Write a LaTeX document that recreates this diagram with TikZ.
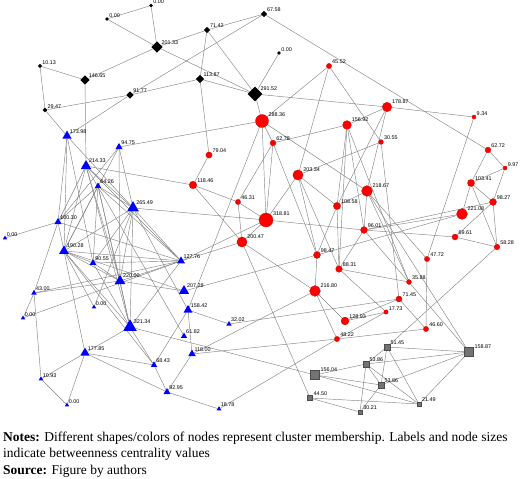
\documentclass[tikz,border=0pt]{standalone}
\usepackage{fontspec}
\setmainfont{Liberation Serif}
\newfontfamily\lblfont{Liberation Sans}
\usetikzlibrary{shapes.geometric}
\pgfdeclarelayer{bg}
\pgfsetlayers{bg,main}

\begin{document}
\begin{tikzpicture}[
    %	style def
    x=1pt, y=-1pt,
    label distance=0.3pt,
    link/.style={draw=black!48, line width=0.45pt},
    lbl/.style={font=\lblfont\fontsize{5.4}{6}\selectfont, inner sep=0.4pt},
    kn/.style={diamond, fill=black, inner sep=0pt, minimum size={4+0.037*#1}, label={[lbl]30:#1}},
    rn/.style={circle, fill=red, draw=red!75!black, line width=0.25pt, inner sep=0pt, minimum size={3.8+0.032*#1}, label={[lbl]30:#1}},
    bn/.style={regular polygon, regular polygon sides=3, fill=blue, inner sep=0pt, minimum size={5+0.033*#1}, label={[lbl]45:#1}},
    gn/.style={rectangle, fill=black!55, draw=black!70, line width=0.3pt, inner sep=0pt, minimum size={3.4+0.037*#1}, label={[lbl]30:#1}},
    note/.style={anchor=base west, inner sep=0pt, font=\fontsize{13.5}{15}\selectfont}
    ]
    \useasboundingbox (0,0) rectangle (520,479);

    % black cluster (diamonds)
    \node[kn=0.00]   (k0a)  at (151,5.5) {};
    \node[kn=0.00]   (k0b)  at (107,19) {};
    \node[kn=201.33] (k201) at (157,47) {};
    \node[kn=10.13]  (k10)  at (40,66)  {};
    \node[kn=146.65] (k146) at (85,80)  {};
    \node[kn=91.77]  (k91)  at (130,95) {};
    \node[kn=29.47]  (k29)  at (45,110) {};
    \node[kn=67.58]  (k67)  at (264,14) {};
    \node[kn=71.42]  (k71)  at (207,30) {};
    \node[kn=0.00]   (k0c)  at (279,53) {};
    \node[kn=113.87] (k113) at (200,79) {};
    \node[kn=291.52] (k291) at (255,94) {};

    % red cluster (circles)
    \node[rn=45.52]  (r45)  at (329,66)  {};
    \node[rn=288.36] (r288) at (262,121) {};
    \node[rn=178.87] (r178) at (387,107) {};
    \node[rn=156.92] (r156) at (347,125) {};
    \node[rn=9.34]   (r9)   at (474,117) {};
    \node[rn=79.04]  (r79)  at (209,155) {};
    \node[rn=62.78]  (r62)  at (273,143) {};
    \node[rn=118.46] (r118) at (193,185) {};
    \node[rn=203.34] (r203) at (298,175) {};
    \node[rn=46.31]  (r46)  at (238,202) {};
    \node[rn=318.81] (r318) at (266,220) {};
    \node[rn=108.58] (r108) at (337,206) {};
    \node[rn=200.47] (r200) at (242,242) {};
    \node[rn=98.47]  (r98)  at (317,255) {};
    \node[rn=88.31]  (r88)  at (339,269) {};
    \node[rn=30.55]  (r30)  at (381,142) {};
    \node[rn=218.67] (r218) at (367,191) {};
    \node[rn=96.01]  (r96)  at (364,230) {};
    \node[rn=62.72]  (r62b) at (488,150) {};
    \node[rn=9.97]   (r9b)  at (505,168) {};
    \node[rn=103.41] (r103) at (471,183) {};
    \node[rn=98.27]  (r98b) at (493,202) {};
    \node[rn=221.08] (r221) at (462,214) {};
    \node[rn=69.61]  (r69)  at (455,237) {};
    \node[rn=58.28]  (r58)  at (497,247) {};
    \node[rn=47.72]  (r47)  at (427,259) {};
    \node[rn=216.80] (r216) at (315,291) {};
    \node[rn=35.88]  (r35)  at (409,282) {};
    \node[rn=71.45]  (r71)  at (399,299) {};
    \node[rn=17.73]  (r17)  at (386,312) {};
    \node[rn=128.93] (r128) at (345,321) {};
    \node[rn=48.22]  (r48)  at (337,339) {};
    \node[rn=46.60]  (r46b) at (426,329) {};

    % blue cluster (triangles)
    \node[bn=173.98] (b173) at (67,136)  {};
    \node[bn=94.75]  (b94)  at (119,147) {};
    \node[bn=214.33] (b214) at (86,166)  {};
    \node[bn=64.26]  (b64)  at (98,186)  {};
    \node[bn=265.49] (b265) at (133,208) {};
    \node[bn=100.30] (b100) at (58,222)  {};
    \node[bn=0.00]   (b0a)  at (5,238)   {};
    \node[bn=190.28] (b190) at (64,251)  {};
    \node[bn=90.55]  (b90)  at (93,263)  {};
    \node[bn=127.76] (b127) at (181,261) {};
    \node[bn=220.00] (b220) at (120,281) {};
    \node[bn=43.00]  (b43)  at (34,293)  {};
    \node[bn=0.00]   (b0b)  at (94,307)  {};
    \node[bn=0.00]   (b0c)  at (23,318)  {};
    \node[bn=207.28] (b207) at (184,291) {};
    \node[bn=158.42] (b158) at (188,310) {};
    \node[bn=32.02]  (b32)  at (229,324) {};
    \node[bn=321.34] (b321) at (130,327) {};
    \node[bn=61.82]  (b61)  at (184,336) {};
    \node[bn=118.00] (b118) at (192,354) {};
    \node[bn=177.85] (b177) at (85,353)  {};
    \node[bn=68.43]  (b68)  at (154,365) {};
    \node[bn=10.93]  (b10)  at (41,379)  {};
    \node[bn=92.95]  (b92)  at (167,392) {};
    \node[bn=0.00]   (b0d)  at (67,405)  {};
    \node[bn=18.78]  (b18)  at (219,409) {};

    % grey cluster (squares)
    \node[gn=156.04] (g156) at (315,375) {};
    \node[gn=44.50]  (g44)  at (310,398) {};
    \node[gn=51.45]  (g51)  at (387,347) {};
    \node[gn=158.87] (g158) at (469,352) {};
    \node[gn=53.86]  (g53a) at (366,364) {};
    \node[gn=53.86]  (g53b) at (381,385) {};
    \node[gn=21.49]  (g21)  at (419,404) {};
    \node[gn=30.21]  (g30)  at (360,412) {};

    % connections, behind the nodes
    \begin{pgfonlayer}{bg}
    \draw[link] (k0a) edge (k0b) edge (k201);
    \draw[link] (k0b) edge (k201);
    \draw[link] (k201) edge (k146) edge (k71) edge (k291);
    \draw[link] (k10) edge (k146) edge (k29);
    \draw[link] (k146) edge (b214);
    \draw[link] (k91) edge (k29) edge (k67) edge (k113) edge (b173);
    \draw[link] (k29) edge (b173);
    \draw[link] (k71) edge (k67) edge (k113) edge (k291);
    \draw[link] (k113) edge (k291) edge (r79);
    \draw[link] (k291) edge (k0c) edge (r288) edge (r178);
    \draw[link] (k67) edge (r62b);

    \draw[link] (r45) edge (r288) edge (r203) edge (r30);
    \draw[link] (r288) edge (r62) edge (r318) edge (r218) edge (b94) edge (b158);
    \draw[link] (r178) edge (r156) edge (r9) edge (r108) edge (r218);
    \draw[link] (r156) edge (r62) edge (r108) edge (r88) edge (r96) edge (r35);
    \draw[link] (r9) edge (r47);
    \draw[link] (r62) edge (r318) edge (r46) edge (r98);
    \draw[link] (r79) edge (r118);
    \draw[link] (r118) edge (r46) edge (r200) edge (b214);
    \draw[link] (r203) edge (r318) edge (r108) edge (r98) edge (r88) edge (r30);
    \draw[link] (r46) edge (r318) edge (r200);
    \draw[link] (r318) edge (r96) edge (r200) edge (b127) edge (b265);
    \draw[link] (r108) edge (r218) edge (r88) edge (r98);
    \draw[link] (r200) edge (r216) edge (g44) edge (b127);
    \draw[link] (r98) edge (r216) edge (r221) edge (b207);
    \draw[link] (r88) edge (r96) edge (r35) edge (r17);
    \draw[link] (r30) edge (r71);
    \draw[link] (r218) edge (r47) edge (r35) edge (r96) edge (g158);
    \draw[link] (r96) edge (r221) edge (r98b) edge (r69) edge (g158);
    \draw[link] (r62b) edge (r9b) edge (r103);
    \draw[link] (r9b) edge (r103) edge (r98b);
    \draw[link] (r103) edge (r221) edge (r98b) edge (r58);
    \draw[link] (r98b) edge (r58) edge (r69);
    \draw[link] (r69) edge (r58);
    \draw[link] (r58) edge (g51);
    \draw[link] (r47) edge (r46b);
    \draw[link] (r216) edge (r128) edge (r48) edge (b118);
    \draw[link] (r71) edge (r128) edge (r46b) edge (b32);
    \draw[link] (r17) edge (r128) edge (r48);
    \draw[link] (r48) edge (r46b) edge (b118) edge (b18);

    \draw[link] (g51) edge (g158) edge (g53a) edge (g53b) edge (g21);
    \draw[link] (g158) edge (g53a) edge (g53b) edge (g21);
    \draw[link] (g53a) edge (g53b) edge (g21) edge (g30) edge (g156);
    \draw[link] (g53b) edge (g156) edge (g30);
    \draw[link] (g21) edge (g156) edge (g44);
    \draw[link] (g30) edge (g44);
    \draw[link] (g156) edge (b321);

    \draw[link] (b173) edge (b100) edge (b190) edge (b265) edge (b90);
    \draw[link] (b94) edge (b100) edge (b190) edge (b220) edge (b265);
    \draw[link] (b214) edge (b265) edge (b127) edge (b220) edge (b321) edge (b190) edge (b100) edge (b61);
    \draw[link] (b64) edge (b265) edge (b127) edge (b220) edge (b321) edge (b190) edge (b100) edge (b90);
    \draw[link] (b265) edge (b127) edge (b220) edge (b321) edge (b190) edge (b90) edge (b0b) edge (b158);
    \draw[link] (b100) edge (b0a) edge (b43) edge (b127) edge (b190);
    \draw[link] (b190) edge (b127) edge (b220) edge (b90) edge (b321) edge (b177) edge (b207) edge (b0b) edge (b68);
    \draw[link] (b90) edge (b127) edge (b220) edge (b321);
    \draw[link] (b127) edge (b220) edge (b43) edge (b0c) edge (b321);
    \draw[link] (b220) edge (b43) edge (b321) edge (b207);
    \draw[link] (b43) edge (b10) edge (b0c);
    \draw[link] (b321) edge (b177) edge (b68);
    \draw[link] (b158) edge (b32) edge (b68) edge (b118);
    \draw[link] (b118) edge (b92);
    \draw[link] (b177) edge (b68) edge (b92) edge (b10) edge (b0d);
    \draw[link] (b10) edge (b0d);
    \draw[link] (b68) edge (b92);
    \draw[link] (b92) edge (b18);
    \end{pgfonlayer}

    % caption
    \node[note] (notes) at (3,441) {\textbf{Notes:} Different shapes/colors of nodes represent cluster membership. Labels and node sizes};
    \node[note] (notes2) at (3,457.5) {indicate betweenness centrality values};
    \node[note] (source) at (3,474) {\textbf{Source:} Figure by authors};
\end{tikzpicture}
\end{document}
